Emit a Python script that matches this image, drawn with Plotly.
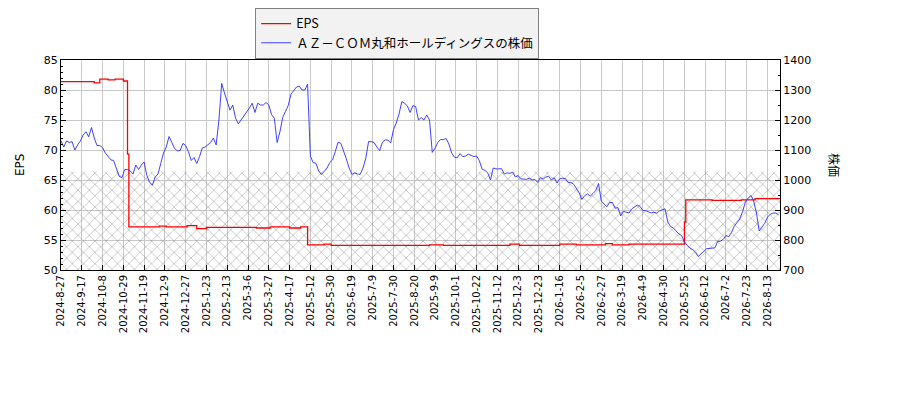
import plotly.graph_objects as go

# trading-day axis: one tick label every 15 trading days
TICK_LABELS = [
    "2024-8-27", "2024-9-17", "2024-10-8", "2024-10-29", "2024-11-19",
    "2024-12-9", "2024-12-27", "2025-1-23", "2025-2-13", "2025-3-6",
    "2025-3-27", "2025-4-17", "2025-5-12", "2025-5-30", "2025-6-19",
    "2025-7-9", "2025-7-30", "2025-8-20", "2025-9-9", "2025-10-1",
    "2025-10-22", "2025-11-12", "2025-12-3", "2025-12-23", "2026-1-16",
    "2026-2-5", "2026-2-27", "2026-3-19", "2026-4-9", "2026-4-30",
    "2026-5-25", "2026-6-12", "2026-7-2", "2026-7-23", "2026-8-13",
]
TICK_STEP = 15
N_DAYS = 520

# share price, one reading every 2 trading days
PRICE_STEP = 2
PRICE = [
    1131, 1110, 1130, 1125, 1128, 1100, 1117, 1130, 1150, 1161,
    1144, 1175, 1140, 1115, 1115, 1108, 1090, 1078, 1067, 1065,
    1035, 1012, 1008, 1035, 1035, 1030, 1020, 1050, 1035, 1050,
    1060, 1015, 992, 983, 1010, 1020, 1055, 1090, 1110, 1145,
    1125, 1105, 1097, 1098, 1122, 1115, 1094, 1065, 1075, 1055,
    1078, 1107, 1110, 1118, 1125, 1140, 1117, 1200, 1322, 1290,
    1262, 1233, 1250, 1206, 1187, 1200, 1211, 1224, 1240, 1256,
    1225, 1256, 1250, 1250, 1258, 1250, 1218, 1206, 1125, 1160,
    1208, 1228, 1248, 1286, 1300, 1310, 1313, 1300, 1300, 1320,
    1080, 1058, 1056, 1030, 1018, 1028, 1040, 1058, 1067, 1095,
    1126, 1122, 1098, 1070, 1040, 1019, 1024, 1020, 1019, 1040,
    1072, 1128, 1128, 1125, 1110, 1098, 1126, 1134, 1133, 1124,
    1168, 1190, 1220, 1261, 1256, 1247, 1225, 1248, 1245, 1200,
    1208, 1200, 1217, 1200, 1092, 1106, 1125, 1135, 1135, 1138,
    1120, 1090, 1076, 1074, 1088, 1078, 1080, 1086, 1082, 1078,
    1080, 1064, 1036, 1032, 1024, 1000, 1040, 1037, 1037, 1038,
    1020, 1024, 1022, 1026, 1010, 1015, 1004, 1002, 1002, 1006,
    1000, 1002, 992, 1008, 1003, 1010, 1012, 1000, 1008, 990,
    1004, 1006, 1005, 992, 992, 986, 970, 958, 935, 948,
    954, 946, 955, 965, 988, 930, 920, 911, 925, 925,
    906, 908, 880, 895, 893, 890, 904, 909, 916, 912,
    898, 898, 894, 890, 893, 889, 897, 900, 904, 860,
    845, 840, 830, 820, 815, 794, 782, 773, 768, 760,
    745, 752, 762, 771, 772, 773, 774, 795, 796, 802,
    815, 811, 825, 846, 857, 870, 895, 926, 940, 948,
    930, 890, 830, 845, 856, 876, 886, 890, 890, 884,
]

# EPS is a step series: trading-day index where each value starts
EPS_START = [0, 24, 28, 34, 39, 45, 48, 49, 71, 76, 91, 98, 105, 141, 151,
             165, 173, 178, 190, 195, 266, 276, 324, 331, 360, 372, 393, 398,
             410, 450, 451, 470, 491, 501]
EPS_VALUE = [81.4, 81.2, 81.8, 81.7, 81.8, 81.5, 69.3, 57.2, 57.3, 57.2, 57.4,
             56.9, 57.1, 57.0, 57.2, 57.0, 57.2, 54.2, 54.3, 54.1, 54.2, 54.1,
             54.3, 54.1, 54.3, 54.2, 54.4, 54.2, 54.3, 58.0, 61.7, 61.6, 61.7,
             61.9]

HATCH_TOP = 66.4

price_x = [i * PRICE_STEP for i in range(len(PRICE))]
tick_x = [i * TICK_STEP for i in range(len(TICK_LABELS))]
last = N_DAYS - 1

fig = go.Figure()

# hatched band
fig.add_trace(go.Scatter(
    x=[0, last], y=[HATCH_TOP, HATCH_TOP],
    mode="none", fill="tozeroy",
    fillcolor="rgba(0,0,0,0)",
    fillpattern=dict(shape="x", fgcolor="#858585", bgcolor="rgba(0,0,0,0)",
                     size=8, solidity=0.2),
    showlegend=False, hoverinfo="skip",
))

fig.add_trace(go.Scatter(
    x=EPS_START + [last], y=EPS_VALUE + [EPS_VALUE[-1]],
    mode="lines", line=dict(color="#ff0000", width=1.3, shape="hv"),
    name="EPS",
))

fig.add_trace(go.Scatter(
    x=price_x, y=PRICE, yaxis="y2",
    mode="lines", line=dict(color="#2b2bff", width=0.9),
    name="ＡＺ－ＣＯＭ丸和ホールディングスの株価",
))

# page body adds 8px, so the figure is 8px smaller and margins shifted
fig.update_layout(
    width=892, height=392,
    margin=dict(l=53, r=120, t=52, b=130, autoexpand=False),
    paper_bgcolor="white", plot_bgcolor="white",
    font=dict(family="DejaVu Sans", size=11, color="black"),
    showlegend=True,
    legend=dict(
        x=0.27, y=1.248, xanchor="left", yanchor="top",
        bgcolor="#f2f2f2", bordercolor="#808080", borderwidth=1,
        font=dict(family="Noto Sans CJK JP", size=12.5),
        traceorder="normal",
    ),
    xaxis=dict(
        range=[0, last], tickmode="array", tickvals=tick_x, ticktext=TICK_LABELS,
        tickangle=-90, ticks="inside", ticklen=5, tickcolor="black",
        showgrid=True, gridcolor="#c8c8c8", gridwidth=1,
        showline=True, linecolor="black", linewidth=1, mirror=True,
        zeroline=False, tickfont=dict(size=10),
    ),
    yaxis=dict(
        range=[50, 85], dtick=5, ticks="inside", ticklen=5, tickcolor="black",
        showgrid=True, gridcolor="#c8c8c8", gridwidth=1,
        showline=True, linecolor="black", linewidth=1,
        zeroline=False,
        minor=dict(dtick=1, ticks="inside", ticklen=2, tickcolor="black",
                   showgrid=False),
    ),
    yaxis2=dict(
        range=[700, 1400], dtick=100, overlaying="y", side="right",
        ticks="inside", ticklen=5, tickcolor="black",
        showgrid=False, showline=True, linecolor="black", linewidth=1,
        zeroline=False,
        minor=dict(dtick=50, ticks="inside", ticklen=2, tickcolor="black",
                   showgrid=False),
    ),
    annotations=[
        dict(text="EPS", x=-0.057, y=0.5, xref="paper", yref="paper",
             xanchor="center", yanchor="middle",
             textangle=-90, showarrow=False, font=dict(size=12)),
        dict(text="株価", x=1.0765, y=0.5, xref="paper", yref="paper",
             xanchor="center", yanchor="middle",
             textangle=90, showarrow=False,
             font=dict(family="Noto Sans CJK JP", size=12)),
    ],
)

fig.write_html("out.html")
